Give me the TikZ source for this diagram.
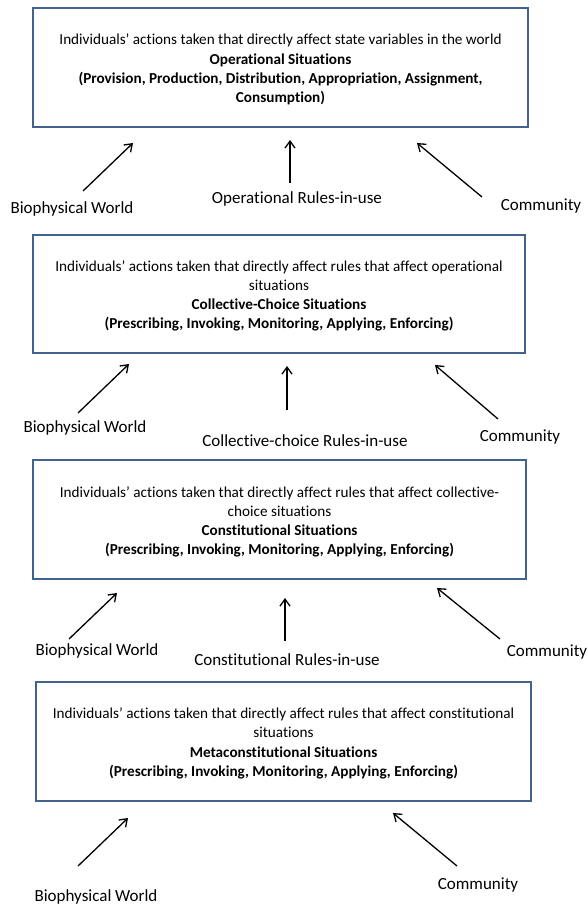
\documentclass[tikz,border=0pt]{standalone}
\usepackage{fontspec}
\setmainfont[Ligatures=NoCommon]{Carlito}
\usetikzlibrary{arrows.meta}
\definecolor{boxblue}{HTML}{41638E}
\tikzset{
  sitbox/.style={draw=boxblue, line width=2pt, inner sep=0pt},
  sittext/.style={align=center, inner sep=0pt, font=\fontsize{15.2}{19.2}\selectfont},
  lbl/.style={font=\fontsize{17}{20}\selectfont, inner sep=0pt},
  arr/.style={line width=1.3pt, -{Straight Barb[length=7pt,width=10pt,line width=1.3pt]}}
}
\begin{document}
\begin{tikzpicture}[x=1pt,y=-1pt]
\useasboundingbox (0,0) rectangle (587,907);
% boxes
\node[sitbox, minimum width=495pt, minimum height=119pt] (b1) at (280.5,67.5) {};
\node[sittext] (x1) at (280.5,69.5)
 {Individuals’ actions taken that directly affect state variables in the world\\
  \textbf{Operational Situations}\\
  \textbf{(Provision, Production, Distribution, Appropriation, Assignment,}\\
  \textbf{Consumption)}};
\node[sitbox, minimum width=492pt, minimum height=118pt] (b2) at (279,294) {};
\node[sittext] (x2) at (279,296)
 {Individuals’ actions taken that directly affect rules that affect operational\\
  situations\\
  \textbf{Collective-Choice Situations}\\
  \textbf{(Prescribing, Invoking, Monitoring, Applying, Enforcing)}};
\node[sitbox, minimum width=493pt, minimum height=119pt] (b3) at (279.5,519.5) {};
\node[sittext] (x3) at (279.5,522)
 {Individuals’ actions taken that directly affect rules that affect collective-\\
  choice situations\\
  \textbf{Constitutional Situations}\\
  \textbf{(Prescribing, Invoking, Monitoring, Applying, Enforcing)}};
\node[sitbox, minimum width=495pt, minimum height=119pt] (b4) at (283.5,741.5) {};
\node[sittext] (x4) at (283.5,743.5)
 {Individuals’ actions taken that directly affect rules that affect constitutional\\
  situations\\
  \textbf{Metaconstitutional Situations}\\
  \textbf{(Prescribing, Invoking, Monitoring, Applying, Enforcing)}};
% labels
\node[lbl] (bw1) at (72,209) {Biophysical World};
\node[lbl] (or1) at (297,199) {Operational Rules-in-use};
\node[lbl] (cm1) at (541,206) {Community};
\node[lbl] (bw2) at (85,428) {Biophysical World};
\node[lbl] (cr2) at (305,441) {Collective-choice Rules-in-use};
\node[lbl] (cm2) at (520,437) {Community};
\node[lbl] (bw3) at (97,651) {Biophysical World};
\node[lbl] (cr3) at (287,660) {Constitutional Rules-in-use};
\node[lbl] (cm3) at (547,652) {Community};
\node[lbl] (bw4) at (96,897) {Biophysical World};
\node[lbl] (cm4) at (478,885) {Community};
% arrow ends
\coordinate (t1a) at (83,191);  \coordinate (h1a) at (133,143);
\coordinate (t1b) at (290,183); \coordinate (h1b) at (290,140);
\coordinate (t1c) at (482,197); \coordinate (h1c) at (417,143);
\coordinate (t2a) at (78,413);  \coordinate (h2a) at (129,364);
\coordinate (t2b) at (287,410); \coordinate (h2b) at (287,366);
\coordinate (t2c) at (498,419); \coordinate (h2c) at (435,365);
\coordinate (t3a) at (69,639);  \coordinate (h3a) at (117,593);
\coordinate (t3b) at (285,641); \coordinate (h3b) at (285,598);
\coordinate (t3c) at (500,639); \coordinate (h3c) at (437,588);
\coordinate (t4a) at (78,866);  \coordinate (h4a) at (128,818);
\coordinate (t4c) at (457,866); \coordinate (h4c) at (393,813);
\foreach \r in {1a,1b,1c,2a,2b,2c,3a,3b,3c,4a,4c}
  \draw[arr] (t\r) -- (h\r);
\end{tikzpicture}
\end{document}
